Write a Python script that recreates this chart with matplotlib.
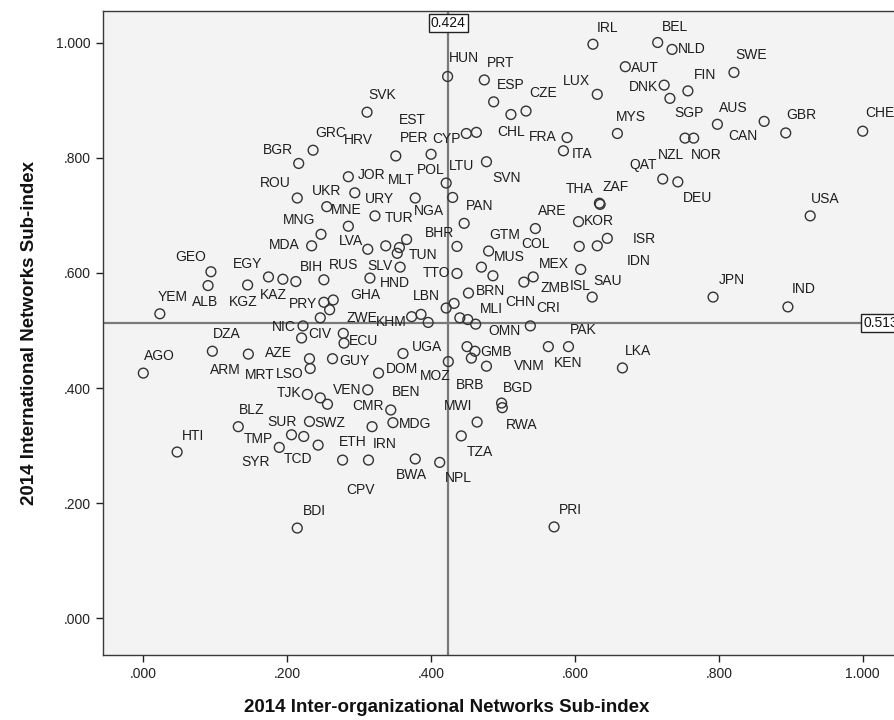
import matplotlib
matplotlib.use("Agg")
import matplotlib.pyplot as plt
import matplotlib.transforms as mtransforms

# ---------------- data ----------------
countries = [
    "IRL", "BEL", "NLD", "AUT", "DNK", "SGP", "FIN", "SWE", "HUN", "PRT",
    "ESP", "CZE", "CHL", "LUX", "MYS", "AUS", "CAN", "GBR", "CHE", "NZL",
    "NOR", "QAT", "DEU", "USA", "SVK", "FRA", "ITA", "GRC", "BGR", "HRV",
    "PER", "CYP", "EST", "ROU", "JOR", "URY", "UKR", "MNE", "MNG", "LVA",
    "MDA", "GEO", "MLT", "LTU", "NGA", "POL", "SVN", "PAN", "TUR", "BHR",
    "GTM", "ARE", "THA", "ZAF", "KOR", "COL", "ISR", "IDN", "MUS", "MEX",
    "ZMB", "ISL", "SAU", "CHN", "CRI", "OMN", "BRN", "MLI", "LBN", "TTO",
    "HND", "SLV", "TUN", "RUS", "BIH", "EGY", "ALB", "KGZ", "KAZ", "PRY",
    "GHA", "YEM", "NIC", "CIV", "ECU", "ZWE", "KHM", "DZA", "AZE", "MRT",
    "LSO", "ARM", "AGO", "TJK", "VEN", "GUY", "CMR", "BEN", "MDG", "UGA",
    "GMB", "VNM", "KEN", "PAK", "BRB", "MOZ", "DOM", "LKA", "BGD", "RWA",
    "MWI", "TZA", "NPL", "BWA", "IRN", "ETH", "CPV", "BLZ", "SUR", "SWZ",
    "TMP", "TCD", "SYR", "HTI", "BDI", "PRI", "JPN", "IND",
]
inter_org = [
    0.625, 0.715, 0.735, 0.670, 0.724, 0.732, 0.757, 0.821, 0.423, 0.474,
    0.487, 0.532, 0.511, 0.631, 0.659, 0.798, 0.863, 0.893, 1.000, 0.753,
    0.765, 0.722, 0.743, 0.927, 0.311, 0.589, 0.584, 0.236, 0.216, 0.351,
    0.400, 0.449, 0.463, 0.214, 0.285, 0.294, 0.255, 0.285, 0.247, 0.312,
    0.234, 0.094, 0.378, 0.421, 0.366, 0.430, 0.477, 0.446, 0.322, 0.436,
    0.480, 0.545, 0.634, 0.635, 0.605, 0.606, 0.645, 0.631, 0.470, 0.608,
    0.542, 0.624, 0.486, 0.529, 0.538, 0.462, 0.452, 0.451, 0.421, 0.436,
    0.315, 0.357, 0.353, 0.251, 0.212, 0.174, 0.090, 0.145, 0.194, 0.251,
    0.264, 0.023, 0.222, 0.220, 0.279, 0.278, 0.373, 0.096, 0.146, 0.231,
    0.232, 0.246, 0.000, 0.228, 0.312, 0.263, 0.318, 0.344, 0.347, 0.361,
    0.461, 0.477, 0.563, 0.591, 0.456, 0.424, 0.327, 0.666, 0.498, 0.499,
    0.464, 0.442, 0.412, 0.378, 0.313, 0.277, 0.256, 0.132, 0.206, 0.231,
    0.189, 0.223, 0.243, 0.047, 0.214, 0.571, 0.792, 0.896,
]
international = [
    0.997, 1.000, 0.988, 0.958, 0.926, 0.903, 0.916, 0.948, 0.941, 0.935,
    0.897, 0.881, 0.875, 0.910, 0.842, 0.858, 0.863, 0.843, 0.846, 0.834,
    0.834, 0.763, 0.758, 0.699, 0.879, 0.835, 0.812, 0.813, 0.790, 0.803,
    0.806, 0.842, 0.844, 0.730, 0.767, 0.739, 0.715, 0.681, 0.667, 0.641,
    0.647, 0.602, 0.730, 0.756, 0.658, 0.731, 0.793, 0.686, 0.699, 0.646,
    0.638, 0.677, 0.721, 0.719, 0.689, 0.646, 0.660, 0.647, 0.610, 0.606,
    0.593, 0.558, 0.595, 0.584, 0.508, 0.511, 0.565, 0.519, 0.539, 0.599,
    0.591, 0.610, 0.634, 0.588, 0.585, 0.593, 0.578, 0.579, 0.589, 0.549,
    0.553, 0.529, 0.508, 0.487, 0.478, 0.495, 0.524, 0.464, 0.459, 0.451,
    0.434, 0.383, 0.426, 0.389, 0.397, 0.451, 0.333, 0.362, 0.340, 0.460,
    0.464, 0.438, 0.472, 0.472, 0.452, 0.446, 0.426, 0.435, 0.374, 0.366,
    0.341, 0.317, 0.271, 0.277, 0.275, 0.275, 0.372, 0.333, 0.319, 0.342,
    0.297, 0.316, 0.301, 0.289, 0.157, 0.159, 0.558, 0.541,
]
# points whose labels are hidden under other labels in the reference
hidden_x = [0.337, 0.356, 0.432, 0.386, 0.396, 0.440, 0.450, 0.259, 0.246]
hidden_y = [0.647, 0.644, 0.547, 0.528, 0.514, 0.522, 0.472, 0.536, 0.522]

ref_x = 0.424
ref_y = 0.513
tick_values = [0.0, 0.2, 0.4, 0.6, 0.8, 1.0]
tick_labels = [".000", ".200", ".400", ".600", ".800", "1.000"]
x_title = "2014 Inter-organizational Networks Sub-index"
y_title = "2014 International Networks Sub-index"

# ---------------- label placement (pixel offsets) ----------------
label_dx = [
    4, 4, 6, 6, -6, 4, 6, 1, 1, 3,
    3, 3, -14, -7, -2, 2, -7, 1, 3, -27,
    -3, -6, 5, 1, 1, -10, 8, 2, -6, -23,
    -31, -6, -78, -7, 9, 10, -15, -17, -6, -5,
    -12, -5, -27, 3, 7, -36, 6, 2, 10, -32,
    1, 3, -6, 2, 5, -58, 25, 29, 12, -12,
    7, -2, 100, -19, 6, 13, 7, 12, -6, -7,
    10, -8, 11, 5, 4, -6, -16, -19, -23, -7,
    17, -2, -7, 7, 5, 3, -5, 1, 17, -65,
    -7, -110, 1, -6, -6, 7, -20, 1, 6, 9,
    5, 27, 6, 1, -15, -28, 7, 2, 1, 4,
    -5, 5, 5, -19, 4, -4, 19, 1, -24, 5,
    -6, -20, -77, 5, 6, 5, 6, 4,
]
label_dy = [
    16, 16, 0, -1, -2, -15, 16, 17, 18, 17,
    17, 18, -17, 13, 17, 16, -15, 18, 18, -17,
    -17, 14, -16, 17, 17, 1, -3, 17, 13, 16,
    16, -5, 12, 15, 2, -6, 16, 16, 14, 8,
    1, 15, 18, 17, 28, 27, -16, 17, -2, 13,
    16, 18, 14, 17, 1, 2, -1, -15, 10, 5,
    -11, 11, -5, -20, 18, -7, 2, 11, 12, 0,
    -5, 1, -2, 15, 15, 13, -16, -17, -16, -2,
    5, 17, -1, 4, 2, 15, -5, 17, 1, -16,
    -5, 28, 17, 1, 0, -2, 21, 18, -1, 7,
    -1, 0, -16, 17, -27, -14, 4, 17, 15, -17,
    16, -16, -16, -16, 16, 18, -86, 17, 13, -2,
    8, -23, -17, 16, 17, 17, 17, 18,
]
right_aligned = {"DNK", "LUX", "CAN", "QAT", "FRA", "BGR", "HRV", "CYP", "ROU",
                 "MNG", "LVA", "MDA", "GEO", "THA", "MEX", "ISL", "LBN", "TTO",
                 "SLV", "EGY", "PRY", "NIC", "KHM", "LSO", "TJK", "VEN", "MWI",
                 "TMP"}

# ---------------- figure ----------------
plt.rcParams["font.family"] = ["Liberation Sans", "DejaVu Sans"]
W, H = 894, 720
fig = plt.figure(figsize=(W / 100, H / 100), dpi=100)
fig.patch.set_facecolor("white")
left_px, right_px, top_px, bottom_px = 103.3, 902.0, 11.0, 655.0
ax = fig.add_axes([left_px / W, 1 - bottom_px / H,
                   (right_px - left_px) / W, (bottom_px - top_px) / H])
ax.set_facecolor("#f3f3f3")
ax.set_xlim(-0.0556, 1.0546)
ax.set_ylim(-0.0634, 1.0547)

ax.axvline(ref_x, color="#7a7a7a", lw=1.6, zorder=1)
ax.axhline(ref_y, color="#7a7a7a", lw=1.6, zorder=1)

ax.scatter(inter_org + hidden_x, international + hidden_y, s=50,
           facecolors="none", edgecolors="#333333", linewidths=1.0, zorder=3)

for name, xv, yv, dx, dy in zip(countries, inter_org, international,
                                label_dx, label_dy):
    ax.annotate(name, (xv, yv), xytext=(dx, dy), textcoords="offset pixels",
                ha="right" if name in right_aligned else "left", va="center",
                fontsize=10, color="#1e1e1e", zorder=4)

tx = mtransforms.blended_transform_factory(ax.transData, ax.transAxes)
ax.text(ref_x, 0.981, f"{ref_x:.3f}", transform=tx, ha="center", va="center",
        fontsize=10, color="#111111", zorder=6,
        bbox=dict(boxstyle="square,pad=0.15", fc="white", ec="#222222", lw=1.0))
ty = mtransforms.blended_transform_factory(ax.transAxes, ax.transData)
ax.text(0.995, ref_y, f"{ref_y:.3f}", transform=ty, ha="right", va="center",
        fontsize=10, color="#111111", zorder=6,
        bbox=dict(boxstyle="square,pad=0.15", fc="white", ec="#222222", lw=1.0))

ax.set_xticks(tick_values)
ax.set_xticklabels(tick_labels)
ax.set_yticks(tick_values)
ax.set_yticklabels(tick_labels)
ax.tick_params(direction="out", length=5, width=1, colors="#222222",
               labelsize=10, pad=4)
for sp in ax.spines.values():
    sp.set_color("#3a3a3a")
    sp.set_linewidth(1.0)

fig.text(0.5, 1 - 707 / H, x_title, ha="center", va="center",
         fontsize=13.5, fontweight="bold", color="#111111")
fig.text(30 / W, 1 - 333 / H, y_title, ha="center", va="center",
         rotation=90, fontsize=13.5, fontweight="bold", color="#111111")

fig.savefig("out.png", dpi=100, facecolor="white")
